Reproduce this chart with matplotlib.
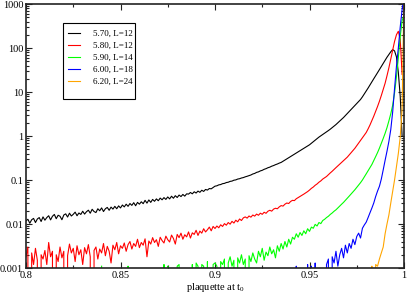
import numpy as np
import matplotlib
matplotlib.use('Agg')
import matplotlib.pyplot as plt
from matplotlib.patches import Rectangle
from matplotlib.ticker import FixedLocator, FixedFormatter, LogLocator, MultipleLocator, NullFormatter

# ---------------- data (histograms, bin width 0.001) ----------------
bin_width = 0.001

labels = ['5.70, L=12', '5.80, L=12', '5.90, L=14', '6.00, L=18', '6.20, L=24']
colors = ['#000000', '#ff0000', '#00ff00', '#0000ff', '#ffa500']

black_start = 0.800
black_vals = [
    0.0118, 0.0128, 0.0104, 0.0125, 0.0134, 0.0108, 0.0130, 0.0140, 0.0114, 0.0145,
    0.0122, 0.0140, 0.0154, 0.0124, 0.0150, 0.0165, 0.0132, 0.0158, 0.0150, 0.0125,
    0.0160, 0.0170, 0.0144, 0.0176, 0.0152, 0.0166, 0.0186, 0.0154, 0.0178, 0.0165,
    0.0195, 0.0168, 0.0190, 0.0206, 0.0176, 0.0216, 0.0192, 0.0182, 0.0222, 0.0200,
    0.0232, 0.0192, 0.0222, 0.0238, 0.0205, 0.0242, 0.0218, 0.0252, 0.0222, 0.0258,
    0.0232, 0.0270, 0.0245, 0.0282, 0.0252, 0.0292, 0.0265, 0.0305, 0.0260, 0.0310,
    0.0282, 0.0320, 0.0290, 0.0345, 0.0298, 0.0352, 0.0310, 0.0362, 0.0328, 0.0372,
    0.0338, 0.0388, 0.0355, 0.0398, 0.0362, 0.0412, 0.0372, 0.0428, 0.0385, 0.0440,
    0.0400, 0.0455, 0.0420, 0.0470, 0.0430, 0.0485, 0.0478, 0.0520, 0.0485, 0.0540,
    0.0505, 0.0560, 0.0525, 0.0585, 0.0550, 0.0610, 0.0590, 0.0640, 0.0630, 0.0675,
    0.0724, 0.0738, 0.0775, 0.0788, 0.0825, 0.0838, 0.0875, 0.0890, 0.0930, 0.0945,
    0.0990, 0.1005, 0.1050, 0.1070, 0.1110, 0.1135, 0.1180, 0.1215, 0.126, 0.130,
    0.137, 0.141, 0.149, 0.153, 0.161, 0.166, 0.175, 0.181, 0.190, 0.196,
    0.206, 0.213, 0.223, 0.231, 0.242, 0.251, 0.267, 0.284, 0.302, 0.321,
    0.341, 0.363, 0.386, 0.410, 0.437, 0.464, 0.493, 0.525, 0.558, 0.593,
    0.631, 0.684, 0.741, 0.804, 0.871, 0.944, 1.01, 1.08, 1.16, 1.24,
    1.33, 1.43, 1.55, 1.68, 1.82, 2.00, 2.19, 2.40, 2.63, 2.92,
    3.24, 3.59, 3.98, 4.42, 4.90, 5.43, 6.03, 6.76, 7.76, 9.02,
    10.5, 12.3, 14.5, 17.0, 20.0, 23.4, 27.5, 32.4, 38.0, 44.7,
    52.5, 61.7, 70.8, 82.0, 92.0, 86.0, 63.0, 28.0, 8.0, 1.0,
]

red_start = 0.800
red_vals = [
    0.0018, 0.0030, 0, 0.0022, 0.0012, 0.0028, 0.0015, 0, 0.0020, 0.0016,
    0.0025, 0.0012, 0.0038, 0.0018, 0.0024, 0, 0.0020, 0.0014, 0.0030, 0.0017,
    0.0024, 0, 0.0019, 0.0035, 0.0022, 0.0028, 0.0014, 0.0032, 0.0020, 0.0026,
    0.0012, 0.0029, 0.0021, 0.0034, 0.0018, 0, 0.0025, 0.0030, 0.0016, 0.0027,
    0.0022, 0.0036, 0.0019, 0.0031, 0.0024, 0.0013, 0.0033, 0.0026, 0.0038, 0.0021,
    0.0032, 0.0028, 0.0037, 0.0024, 0.0034, 0.0040, 0.0027, 0.0036, 0.0031, 0.0045,
    0.0029, 0.0038, 0.0033, 0.0046, 0.0018, 0.0041, 0.0035, 0.0049, 0.0038, 0.0044,
    0.0031, 0.0050, 0.0042, 0.0037, 0.0053, 0.0044, 0.0039, 0.0056, 0.0047, 0.0035,
    0.0058, 0.0049, 0.0062, 0.0045, 0.0057, 0.0051, 0.0066, 0.0048, 0.0063, 0.0058,
    0.0072, 0.0055, 0.0069, 0.0062, 0.0078, 0.0066, 0.0074, 0.0085, 0.0070, 0.0088,
    0.0079, 0.0090, 0.0082, 0.0096, 0.0088, 0.0102, 0.0094, 0.0108, 0.0099, 0.0115,
    0.0105, 0.0122, 0.0112, 0.0130, 0.0120, 0.0138, 0.0145, 0.0136, 0.0152, 0.0143,
    0.0160, 0.0151, 0.0168, 0.0158, 0.0176, 0.0166, 0.0185, 0.0175, 0.0195, 0.0205,
    0.0196, 0.0218, 0.0228, 0.0222, 0.0245, 0.0262, 0.0255, 0.0282, 0.0300, 0.0292,
    0.0325, 0.0345, 0.0340, 0.0375, 0.0398, 0.0420, 0.0450, 0.0478, 0.0510, 0.0545,
    0.0590, 0.0646, 0.0692, 0.0759, 0.0813, 0.0891, 0.0955, 0.105, 0.112, 0.120,
    0.132, 0.145, 0.158, 0.174, 0.191, 0.209, 0.229, 0.251, 0.275, 0.302,
    0.331, 0.372, 0.417, 0.468, 0.525, 0.603, 0.692, 0.794, 0.912, 1.05,
    1.20, 1.45, 1.78, 2.24, 2.82, 3.63, 4.68, 6.17, 8.32, 11.5,
    15.8, 23.4, 35.5, 56.2, 89.1, 141, 200, 240, 158, 25,
]

green_start = 0.840
green_vals = [
    0.0011, 0, 0, 0, 0, 0, 0, 0, 0, 0,
    0, 0, 0, 0, 0.0011, 0, 0, 0, 0, 0,
    0, 0, 0, 0, 0, 0, 0, 0, 0, 0,
    0, 0, 0, 0.0012, 0, 0.0011, 0, 0, 0, 0,
    0.0011, 0.0012, 0, 0, 0, 0, 0, 0, 0.0012, 0,
    0.0013, 0.0011, 0, 0.0012, 0.0011, 0, 0.0014, 0, 0, 0.0012,
    0.0013, 0.0011, 0, 0.0014, 0.0012, 0.0016, 0, 0.0013, 0.0018, 0.0011,
    0.0015, 0, 0.0017, 0.0013, 0.0020, 0.0012, 0.0016, 0, 0.0019, 0.0014,
    0.0022, 0.0016, 0.0013, 0.0024, 0.0018, 0.0028, 0.0015, 0.0023, 0.0019, 0.0030,
    0.0021, 0.0026, 0.0017, 0.0032, 0.0024, 0.0036, 0.0027, 0.0040, 0.0030, 0.0045,
    0.0035, 0.0050, 0.0045, 0.0060, 0.0050, 0.0064, 0.0055, 0.0070, 0.0060, 0.0078,
    0.0068, 0.0085, 0.0080, 0.0098, 0.0090, 0.0108, 0.0102, 0.0120, 0.0128, 0.0140,
    0.0150, 0.0165, 0.0178, 0.0195, 0.0210, 0.0232, 0.0255, 0.0282, 0.0310, 0.0345,
    0.0385, 0.0430, 0.0480, 0.0535, 0.0600, 0.0680, 0.0770, 0.0870, 0.100, 0.118,
    0.138, 0.162, 0.190, 0.225, 0.275, 0.340, 0.420, 0.530, 0.680, 0.880,
    1.15, 1.55, 2.20, 3.20, 5.00, 9.50, 22.0, 60.0, 180, 420,
    560,
]

blue_start = 0.940
blue_vals = [
    0, 0, 0, 0.0011, 0, 0, 0, 0, 0, 0.0012,
    0, 0.0011, 0, 0.0013, 0, 0, 0, 0, 0, 0.0012,
    0.0016, 0, 0.0018, 0.0013, 0.0024, 0.0011, 0.0020, 0.0028, 0.0017, 0.0033,
    0.0022, 0.0036, 0.0028, 0.0045, 0.0034, 0.0052, 0.0062, 0.0048, 0.0080, 0.0095,
    0.0110, 0.0140, 0.0180, 0.0230, 0.0300, 0.0420, 0.0560, 0.0720, 0.105, 0.170,
    0.28, 0.45, 0.75, 1.4, 3.5, 12.0, 38.0, 100, 300, 750,
    1500,
]

orange_start = 0.980
orange_vals = [
    0, 0, 0, 0.0011, 0, 0.0012, 0.0011, 0.0016, 0.0022, 0.0030,
    0.0060, 0.0100, 0.016, 0.030, 0.055, 0.10, 0.20, 0.40, 0.95, 4.0,
    2000,
]

x_ticks = [0.8, 0.85, 0.9, 0.95, 1.0]
x_tick_labels = ['0.8', '0.85', '0.9', '0.95', '1']
y_ticks = [1e-3, 1e-2, 1e-1, 1, 10, 100, 1000]
y_tick_labels = ['0.001', '0.01', '0.1', '1', '10', '100', '1000']
x_label = r'plaquette at t$_0$'

# ---------------- style ----------------
plt.rcParams['font.family'] = ['Liberation Serif', 'DejaVu Serif']
plt.rcParams['mathtext.fontset'] = 'custom'
plt.rcParams['mathtext.rm'] = 'Liberation Serif'
plt.rcParams['mathtext.it'] = 'Liberation Serif:italic'

W, H = 407, 296
fig = plt.figure(figsize=(W / 100, H / 100), dpi=100)
ax = fig.add_axes([26 / W, 1 - 268 / H, 378 / W, 264 / H])

series = [
    (black_start, black_vals),
    (red_start, red_vals),
    (green_start, green_vals),
    (blue_start, blue_vals),
    (orange_start, orange_vals),
]
for (start, vals), lab, col in zip(series, labels, colors):
    v = np.array(vals, dtype=float)
    x = start + bin_width * np.arange(len(v))
    ax.plot(x, v, color=col, lw=0.8, label=lab)

ax.set_yscale('log')
ax.set_xlim(0.8, 1.0)
ax.set_ylim(1e-3, 1e3)

ax.xaxis.set_major_locator(FixedLocator(x_ticks))
ax.xaxis.set_major_formatter(FixedFormatter(x_tick_labels))
ax.xaxis.set_minor_locator(MultipleLocator(0.025))
ax.yaxis.set_major_locator(FixedLocator(y_ticks))
ax.yaxis.set_major_formatter(FixedFormatter(y_tick_labels))
ax.yaxis.set_minor_locator(LogLocator(base=10, subs=np.arange(2, 10), numticks=20))
ax.yaxis.set_minor_formatter(NullFormatter())

ax.tick_params(which='both', direction='in', top=True, right=True,
               labelsize=7.5, width=0.8, color='#222222')
ax.tick_params(which='major', length=4.5, pad=2)
ax.tick_params(which='minor', length=2.2)
for sp in ax.spines.values():
    sp.set_linewidth(1.2)
    sp.set_color('#222222')

ax.set_xlabel(x_label, fontsize=7.5, labelpad=1)

# legend box (Grace-style, extra room at the bottom)
box = Rectangle((63 / W, 1 - 99 / H), 72 / W, 76 / H, transform=fig.transFigure,
                facecolor='white', edgecolor='black', lw=0.8, zorder=4, clip_on=False)
ax.add_artist(box)
leg = ax.legend(loc='upper left', bbox_to_anchor=(0.098, 0.921), fontsize=6.5,
                frameon=False, borderpad=0.5, handlelength=1.4, handletextpad=1.4,
                labelspacing=0.42, borderaxespad=0)
leg.set_zorder(5)

fig.savefig('out.png', dpi=100)
